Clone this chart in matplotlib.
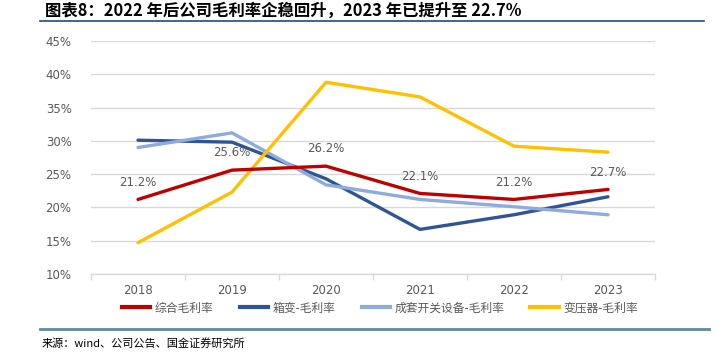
import matplotlib
matplotlib.use("Agg")
import matplotlib.pyplot as plt
from matplotlib.lines import Line2D
import numpy as np

plt.rcParams['font.family'] = ['Noto Sans CJK SC', 'DejaVu Sans']

years = ["2018", "2019", "2020", "2021", "2022", "2023"]
total_margin = [21.2, 25.6, 26.2, 22.1, 21.2, 22.7]
box_margin = [30.1, 29.8, 24.3, 16.7, 18.9, 21.6]
switchgear_margin = [29.0, 31.2, 23.4, 21.2, 20.1, 18.9]
transformer_margin = [14.7, 22.3, 38.8, 36.6, 29.2, 28.3]

series_names = ["综合毛利率", "箱变-毛利率", "成套开关设备-毛利率", "变压器-毛利率"]
series_colors = ["#C00000", "#2F5597", "#8FAADC", "#FFC000"]

title = "图表8：2022 年后公司毛利率企稳回升，2023 年已提升至 22.7%"
source = "来源：wind、公司公告、国金证券研究所"

fig = plt.figure(figsize=(7.17, 3.54), dpi=100)
ax = fig.add_axes([91/717, 1-274/354, (655-91)/717, (274-41)/354])

x = np.arange(len(years))
order = [1, 2, 3, 0]
data = [total_margin, box_margin, switchgear_margin, transformer_margin]
for i in order:
    ax.plot(x, data[i], color=series_colors[i], lw=2.4, solid_capstyle='round', zorder=3 + (i == 0))

for xi, v in zip(x, total_margin):
    ax.annotate(f"{v:.1f}%", (xi, v), xytext=(0, 12.5), textcoords='offset points',
                ha='center', va='center', fontsize=8.5, color='#595959',
                family=['DejaVu Sans'])

ax.set_xlim(-0.5, 5.5)
ax.set_ylim(10, 45)
ax.set_yticks(np.arange(10, 46, 5))
ax.set_yticklabels([f"{t}%" for t in range(10, 46, 5)], family=['DejaVu Sans'])
ax.set_xticks(x)
ax.set_xticklabels(years, family=['DejaVu Sans'])
ax.set_xticks(np.arange(-0.5, 6, 1), minor=True)
ax.tick_params(axis='x', which='major', length=0, pad=7, labelsize=8.5, labelcolor='#595959')
ax.tick_params(axis='x', which='minor', length=4, color='#D9D9D9', width=1)
ax.tick_params(axis='y', length=0, pad=14, labelsize=8.5, labelcolor='#595959')
ax.grid(axis='y', color='#D9D9D9', lw=1)
ax.set_axisbelow(True)
for s in ['top', 'right', 'left']:
    ax.spines[s].set_visible(False)
ax.spines['bottom'].set_color('#D9D9D9')
ax.spines['bottom'].set_linewidth(1)

handles = [Line2D([0], [0], color=c, lw=3) for c in series_colors]
leg = fig.legend(handles, series_names, loc='center', bbox_to_anchor=(380/717, 1-308/354),
                 ncol=4, frameon=False, fontsize=8.5, handlelength=2.4, columnspacing=2.2,
                 handletextpad=0.4)
for t in leg.get_texts():
    t.set_color('#595959')

fig.text(45/717, 1-11/354, title, fontsize=11.8, fontweight='bold', style='italic',
         ha='left', va='center', color='black')
fig.add_artist(Line2D([40/717, 704/717], [1-21/354, 1-21/354], color='#1F4E79', lw=1.2))
fig.add_artist(Line2D([40/717, 709/717], [1-329/354, 1-329/354], color='#5B8BA0', lw=2))
fig.text(42/717, 1-343/354, source, fontsize=8, ha='left', va='center', color='black')

fig.savefig("out.png", dpi=100)
